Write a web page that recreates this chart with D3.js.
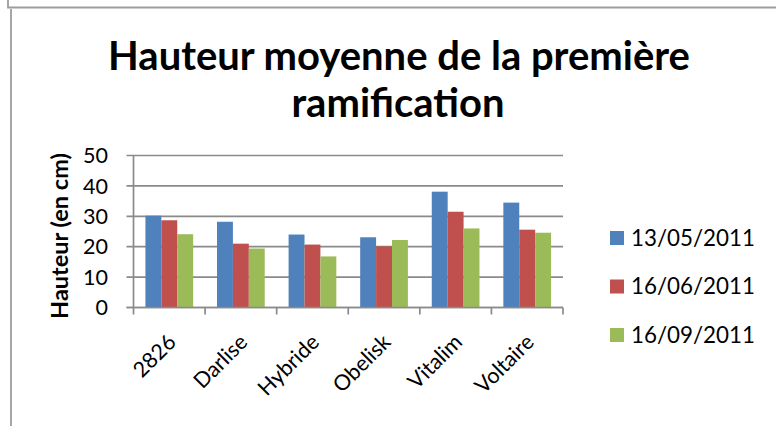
<!DOCTYPE html>
<html><head><meta charset="utf-8">
<script src="https://cdn.jsdelivr.net/npm/d3@7"></script>
<style>body{margin:0;background:#fff}svg{display:block}text{font-family:Lato,"Open Sans",sans-serif;fill:#000}</style>
</head><body><svg id="c" width="776" height="426"></svg>
<script>
const categories = ["2826","Darlise","Hybride","Obelisk","Vitalim","Voltaire"];
const seriesNames = ["13/05/2011","16/06/2011","16/09/2011"];
const s1 = [30.2,28.2,24.0,23.1,38.1,34.5];
const s2 = [28.7,21.0,20.7,20.1,31.5,25.6];
const s3 = [24.1,19.4,16.8,22.2,26.0,24.6];
const yTicks = [0,10,20,30,40,50];
const colors = ["#4F81BD","#C0504D","#9BBB59"];
const titleLines = ["Hauteur moyenne de la première","ramification"];
const yLabel = "Hauteur (en cm)";

const series = [s1,s2,s3];
const svg = d3.select("#c");
const L = 133.5, R = 563, T = 155.5, B = 307.5;
const x0 = d3.scaleBand().domain(categories).range([L,R]).padding(0);
const x1 = d3.scaleBand().domain(seriesNames).range([0,x0.step()]).paddingInner(0).paddingOuter(0.75);
const y = d3.scaleLinear().domain([0,50]).range([B,T]);
const color = d3.scaleOrdinal().domain(seriesNames).range(colors);

function fit(sel, w){
  const base = 20;
  sel.style("font-size", base+"px");
  const l = sel.node().getComputedTextLength();
  sel.style("font-size", (base*w/l)+"px");
  return base*w/l;
}

// chart border (cropped frame)
svg.append("path").attr("d","M8,0V7.5H776").attr("fill","none").attr("stroke","#9c9c9c").attr("stroke-width",1.8);
svg.append("path").attr("d","M11,9V426").attr("fill","none").attr("stroke","#9c9c9c").attr("stroke-width",1.8);

// gridlines
const gridC = "#8a8a8a";
svg.append("g").selectAll("line").data(yTicks).join("line")
  .attr("x1",L-7).attr("x2",R).attr("y1",d=>y(d)).attr("y2",d=>y(d))
  .attr("stroke",gridC).attr("stroke-width",1.7);

// bars
const data = [];
categories.forEach((c,i)=>seriesNames.forEach((s,j)=>data.push({c,s,v:series[j][i]})));
svg.append("g").selectAll("rect").data(data).join("rect")
  .attr("x",d=>x0(d.c)+x1(d.s)).attr("width",x1.bandwidth())
  .attr("y",d=>y(d.v)).attr("height",d=>y(0)-y(d.v))
  .attr("fill",d=>color(d.s));

// axes lines
svg.append("line").attr("x1",L).attr("x2",L).attr("y1",T).attr("y2",B).attr("stroke",gridC).attr("stroke-width",1.7);
svg.append("line").attr("x1",L-7).attr("x2",R).attr("y1",B).attr("y2",B).attr("stroke",gridC).attr("stroke-width",1.7);
const bounds = categories.map(c=>x0(c)).concat([R]);
svg.append("g").selectAll("line").data(bounds).join("line")
  .attr("x1",d=>d).attr("x2",d=>d).attr("y1",B).attr("y2",B+7)
  .attr("stroke",gridC).attr("stroke-width",1.7);

// y tick labels
const yl = svg.append("g").selectAll("text").data(yTicks).join("text")
  .attr("x",108).attr("y",d=>y(d)).attr("dy","0.36em").attr("text-anchor","end").text(d=>d);
const tfs = fit(d3.select(yl.nodes()[4]), 25);
yl.style("font-size",tfs+"px");

// x labels
svg.append("g").selectAll("text").data(categories).join("text")
  .attr("text-anchor","end")
  .attr("transform",d=>`translate(${x0(d)+x0.bandwidth()/2+8},${B+36}) rotate(-45)`)
  .style("font-size",tfs+"px").text(d=>d);

// title
const t1 = svg.append("text").attr("x",399).attr("y",69.5).attr("text-anchor","middle").attr("font-weight","bold").text(titleLines[0]);
const titleFs = fit(t1, 582);
svg.append("text").attr("x",398).attr("y",116.7).attr("text-anchor","middle").attr("font-weight","bold").style("font-size",titleFs+"px").text(titleLines[1]);

// y label
const ylab = svg.append("text").attr("text-anchor","middle").attr("font-weight","bold")
  .attr("transform","translate(68,236) rotate(-90)").text(yLabel);
fit(ylab, 166);

// legend
const lg = svg.append("g").selectAll("g").data(seriesNames).join("g")
  .attr("transform",(d,i)=>`translate(610,${238+i*48.5})`);
lg.append("rect").attr("x",0).attr("y",-7).attr("width",14).attr("height",14).attr("fill",d=>color(d));
const lt = lg.append("text").attr("x",21).attr("y",7.8).text(d=>d);
const lfs = fit(d3.select(lt.nodes()[0]), 124);
lt.style("font-size",lfs+"px");
</script></body></html>
